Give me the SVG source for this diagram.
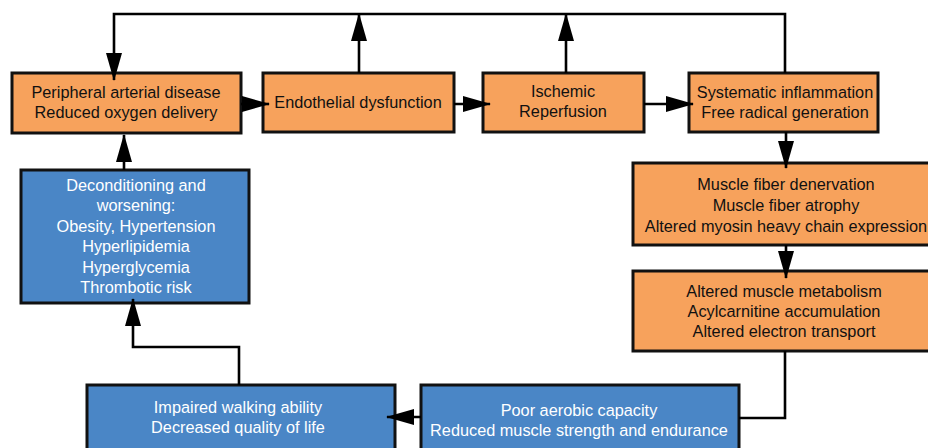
<svg xmlns="http://www.w3.org/2000/svg" width="928" height="448" viewBox="0 0 928 448">
<style>
.o{fill:#F7A25C;stroke:#111;stroke-width:3}
.b{fill:#4A86C6;stroke:#111;stroke-width:3}
text{font-family:"Liberation Sans",Arial,sans-serif;font-size:16.3px;text-anchor:middle}
.dk{fill:#111}
.lt{fill:#fff}
.c{fill:none;stroke:#000;stroke-width:2.6;marker-end:url(#ah)}
.n{fill:none;stroke:#000;stroke-width:2.6}
</style>
<defs>
<marker id="ah" markerUnits="userSpaceOnUse" markerWidth="28" markerHeight="16" refX="27" refY="8" orient="auto"><path d="M0,0 L28,8 L0,16 z" fill="#000"/></marker>
</defs>
<rect width="928" height="448" fill="#fff"/>
<g id="pad"><rect class="o" x="12" y="73" width="229" height="60"/><text class="dk" x="126" y="98">Peripheral arterial disease</text><text class="dk" x="126" y="118">Reduced oxygen delivery</text></g>
<g id="endo"><rect class="o" x="263" y="73" width="191" height="59"/><text class="dk" x="358" y="108">Endothelial dysfunction</text></g>
<g id="isch"><rect class="o" x="483" y="73" width="161" height="59"/><text class="dk" x="563" y="97">Ischemic</text><text class="dk" x="563" y="117">Reperfusion</text></g>
<g id="sys"><rect class="o" x="689" y="73" width="189" height="59"/><text class="dk" x="785" y="98">Systematic inflammation</text><text class="dk" x="785" y="118">Free radical generation</text></g>
<g id="fiber"><rect class="o" x="633" y="163" width="310" height="82"/><text class="dk" x="786" y="190">Muscle fiber denervation</text><text class="dk" x="786" y="211">Muscle fiber atrophy</text><text class="dk" x="786" y="232">Altered myosin heavy chain expression</text></g>
<g id="metab"><rect class="o" x="633" y="271" width="310" height="80"/><text class="dk" x="784" y="297">Altered muscle metabolism</text><text class="dk" x="784" y="317">Acylcarnitine accumulation</text><text class="dk" x="784" y="337">Altered electron transport</text></g>
<g id="aerobic"><rect class="b" x="421" y="385" width="318" height="80"/><text class="lt" x="579" y="416">Poor aerobic capacity</text><text class="lt" x="579" y="436">Reduced muscle strength and endurance</text></g>
<g id="walk"><rect class="b" x="87" y="385" width="308" height="80"/><text class="lt" x="238" y="413">Impaired walking ability</text><text class="lt" x="238" y="433">Decreased quality of life</text></g>
<g id="decond"><rect class="b" x="21" y="170" width="228" height="133"/><text class="lt" x="136" y="191">Deconditioning and</text><text class="lt" x="136" y="211">worsening:</text><text class="lt" x="136" y="232">Obesity, Hypertension</text><text class="lt" x="136" y="252">Hyperlipidemia</text><text class="lt" x="136" y="273">Hyperglycemia</text><text class="lt" x="136" y="293">Thrombotic risk</text></g>
<g id="connectors">
<path class="c" d="M785,73 V14 H114 V80"/>
<path class="c" d="M359,73 V14"/>
<path class="c" d="M566,73 V14"/>
<path class="c" d="M241,104 H269"/>
<path class="c" d="M454,104 H490"/>
<path class="c" d="M644,104 H693"/>
<path class="c" d="M786,132 V168"/>
<path class="c" d="M786,245 V278"/>
<path class="n" d="M785,351 V418 H739"/>
<path class="c" d="M421,417 H387"/>
<path class="c" d="M239,385 V347 H133 V299"/>
<path class="c" d="M124,170 V135"/>
</g>
</svg>
